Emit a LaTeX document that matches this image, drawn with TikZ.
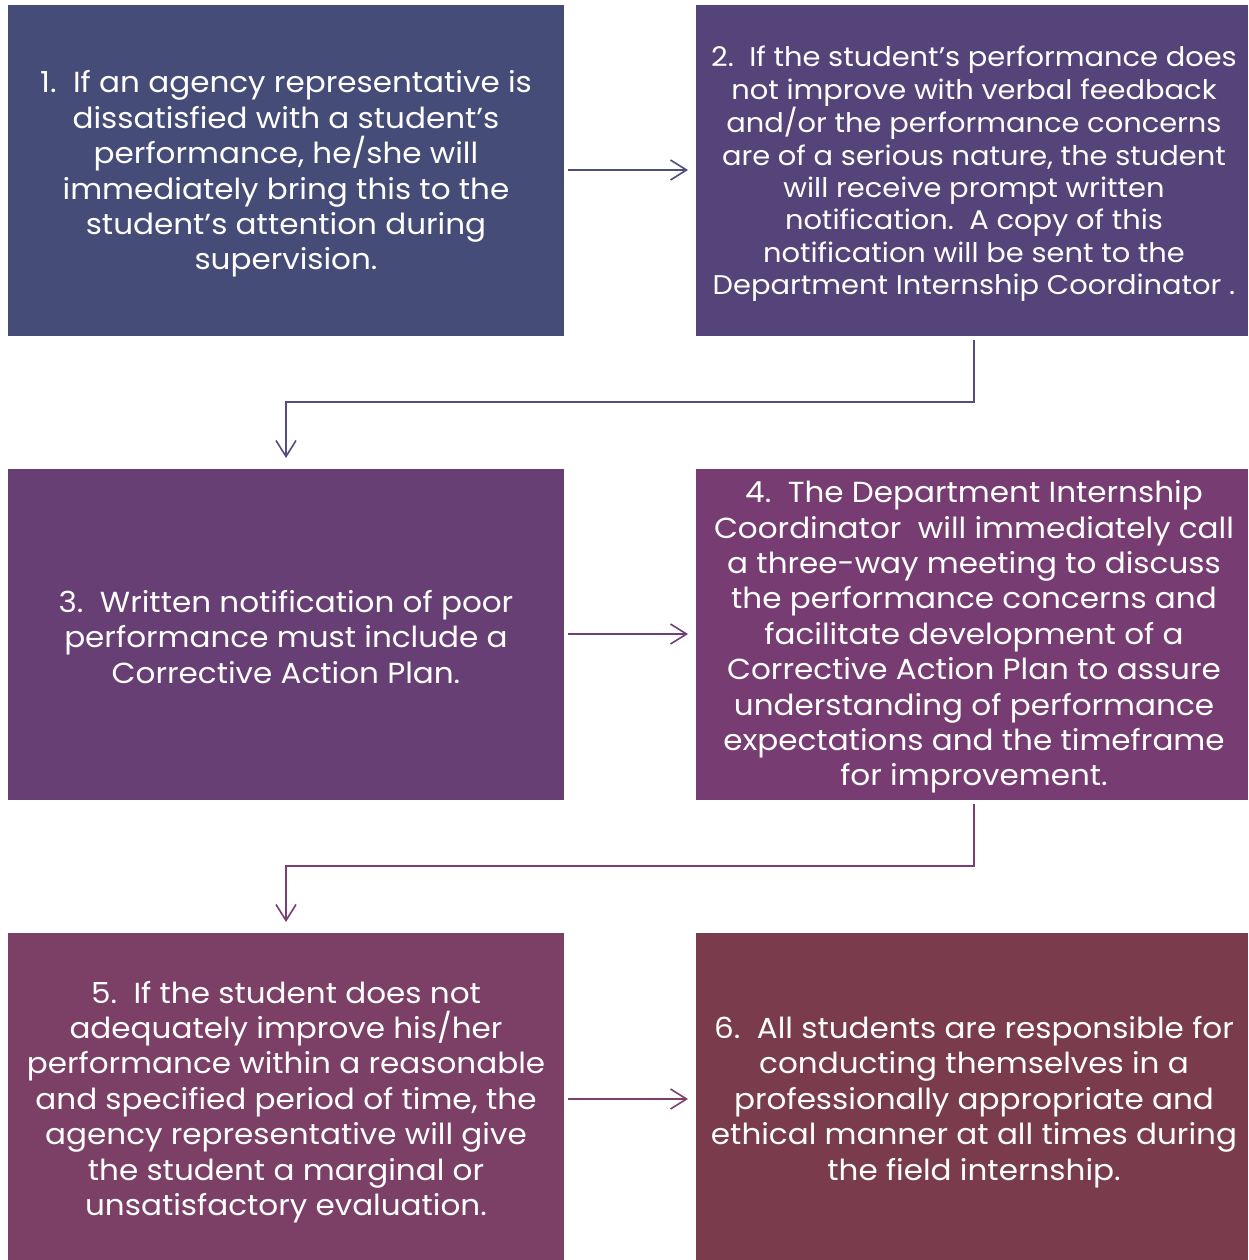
\documentclass[tikz,border=0pt]{standalone}
\usepackage{fontspec}
\setmainfont{Poppins}[FakeStretch=1.07]
\usetikzlibrary{arrows.meta}
\definecolor{c1}{HTML}{464C78}
\definecolor{c2}{HTML}{54447A}
\definecolor{c3}{HTML}{683F74}
\definecolor{c4}{HTML}{773D72}
\definecolor{c5}{HTML}{7C3F66}
\definecolor{c6}{HTML}{7A3C4C}
\definecolor{a1}{HTML}{4A4E7C}
\definecolor{a2}{HTML}{5A4A82}
\definecolor{a3}{HTML}{6C4078}
\definecolor{a4}{HTML}{7A3E72}
\definecolor{a5}{HTML}{7E4068}
\tikzset{
  txt/.style={text=white, align=center, font=\fontsize{29}{35.4}\selectfont, inner sep=0pt},
  arr/.style={line width=1.6pt, -{Straight Barb[length=16pt,width=20pt,line width=1.6pt]}},
}
\begin{document}
\begin{tikzpicture}[x=1pt,y=-1pt]
\useasboundingbox (0,0) rectangle (1248,1260);
\fill[white] (0,0) rectangle (1248,1260);
% boxes
\fill[c1] (8,5) rectangle (564,336);
\fill[c2] (696,5) rectangle (1248,336);
\fill[c3] (8,469) rectangle (564,800);
\fill[c4] (696,469) rectangle (1248,800);
\fill[c5] (8,933) rectangle (564,1260);
\fill[c6] (696,933) rectangle (1248,1260);
\coordinate (b1e) at (568,170);
\coordinate (b2w) at (688,170);
\coordinate (b2s) at (974,340);
\coordinate (b3n) at (286,458);
\coordinate (b3e) at (568,634);
\coordinate (b4w) at (688,634);
\coordinate (b4s) at (974,804);
\coordinate (b5n) at (286,922);
\coordinate (b5e) at (568,1099);
\coordinate (b6w) at (688,1099);
\node[txt] (t1) at (286,174) {1.\ \ If an agency representative is\\dissatisfied with a student’s\\performance, he/she will\\immediately bring this to the\\student’s attention during\\supervision.};
\node[txt, font=\fontsize{27}{32.4}\selectfont] (t2) at (974,174) {2.\ \ If the student’s performance does\\not improve with verbal feedback\\and/or the performance concerns\\are of a serious nature, the student\\will receive prompt written\\notification.\ \ A copy of this\\notification will be sent to the\\Department Internship Coordinator .};
\node[txt] (t3) at (286,637) {3.\ \ Written notification of poor\\performance must include a\\Corrective Action Plan.};
\node[txt] (t4) at (974,637) {4.\ \ The Department Internship\\Coordinator\ \ will immediately call\\a three-way meeting to discuss\\the performance concerns and\\facilitate development of a\\Corrective Action Plan to assure\\understanding of performance\\expectations and the timeframe\\for improvement.};
\node[txt] (t5) at (286,1102) {5.\ \ If the student does not\\adequately improve his/her\\performance within a reasonable\\and specified period of time, the\\agency representative will give\\the student a marginal or\\unsatisfactory evaluation.};
\node[txt] (t6) at (974,1102) {6.\ \ All students are responsible for\\conducting themselves in a\\professionally appropriate and\\ethical manner at all times during\\the field internship.};
\draw[arr, a1] (b1e) -- (b2w);
\draw[arr, a2] (b2s) |- (286,402) -- (b3n);
\draw[arr, a3] (b3e) -- (b4w);
\draw[arr, a4] (b4s) |- (286,866) -- (b5n);
\draw[arr, a5] (b5e) -- (b6w);
\end{tikzpicture}
\end{document}
